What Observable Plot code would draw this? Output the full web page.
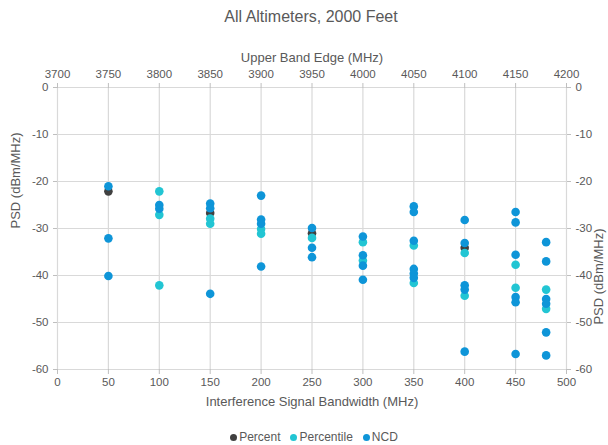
<!DOCTYPE html>
<html>
<head>
<meta charset="utf-8">
<script src="https://cdn.jsdelivr.net/npm/d3@7"></script>
<script src="https://cdn.jsdelivr.net/npm/@observablehq/plot@0.6"></script>
<style>
  html, body { margin: 0; padding: 0; background: #fff; }
  body { width: 608px; height: 445px; overflow: hidden; font-family: "Liberation Sans", Arial, sans-serif; color: #595959; }
  #title { height: 34px; line-height: 34px; text-align: center; font-size: 16px; padding-left: 14px; }
  #chart svg { display: block; }
  #legend { height: 25px; line-height: 34px; text-align: center; font-size: 12px; padding-left: 20px; }
  .item { display: inline-block; margin: 0 5px; }
  .dot { display: inline-block; width: 7px; height: 7px; border-radius: 50%; margin-right: 2px; vertical-align: 0px; }
</style>
</head>
<body>
<div id="title"></div>
<div id="chart"></div>
<div id="legend"></div>
<script>
const chartTitle = "All Altimeters, 2000 Feet";
const topAxisLabel = "Upper Band Edge (MHz)";
const bottomAxisLabel = "Interference Signal Bandwidth (MHz)";
const yAxisLabel = "PSD (dBm/MHz)";

const bandwidthTicks = [0, 50, 100, 150, 200, 250, 300, 350, 400, 450, 500];
const upperBandEdgeTicks = [3700, 3750, 3800, 3850, 3900, 3950, 4000, 4050, 4100, 4150, 4200];
const psdTicks = [0, -10, -20, -30, -40, -50, -60];

const seriesNames = ["Percent", "Percentile", "NCD"];
const seriesColors = ["#404040", "#22c5d3", "#0e95d8"];

const percentX = [50, 150, 250, 400];
const percentY = [-22.1, -26.7, -31.0, -34.1];

const percentileX = [100, 100, 100, 150, 150, 200, 200, 250, 300, 300, 350, 350, 400, 400, 450, 450, 480, 480];
const percentileY = [-22.1, -27.1, -42.1, -27.9, -29.0, -30.1, -31.1, -32.0, -32.9, -36.8, -33.6, -41.6, -35.2, -44.3, -37.7, -42.6, -43.0, -47.1];

const ncdX = [50, 50, 50, 100, 100, 150, 150, 150, 200, 200, 200, 200, 250, 250, 250,
              300, 300, 300, 300, 350, 350, 350, 350, 350, 350, 400, 400, 400, 400, 400,
              450, 450, 450, 450, 450, 450, 480, 480, 480, 480, 480, 480];
const ncdY = [-21.0, -32.1, -40.1, -25.0, -25.8, -24.7, -25.7, -43.9, -23.0, -28.1, -29.0, -38.1, -29.9, -34.1, -36.1,
              -31.7, -35.7, -37.9, -40.9, -25.3, -26.5, -32.6, -38.6, -39.6, -40.5, -28.2, -33.1, -42.1, -43.0, -56.2,
              -26.5, -28.7, -35.6, -44.6, -45.7, -56.7, -32.9, -37.0, -45.0, -46.0, -52.1, -57.0];

const data = [
  ...percentX.map((x, i) => ({series: "Percent", bw: x, psd: percentY[i]})),
  ...percentileX.map((x, i) => ({series: "Percentile", bw: x, psd: percentileY[i]})),
  ...ncdX.map((x, i) => ({series: "NCD", bw: x, psd: ncdY[i]}))
];

document.getElementById("title").textContent = chartTitle;

const textColor = "#595959";
const gridColor = "#d9d9d9";
const axisColor = "#bfbfbf";

const plot = Plot.plot({
  width: 608,
  height: 386,
  marginTop: 53,
  marginBottom: 51,
  marginLeft: 57,
  marginRight: 42,
  style: {fontFamily: "'Liberation Sans', Arial, sans-serif", fontSize: "11.5px", color: textColor, background: "#fff"},
  x: {domain: [0, 500]},
  y: {domain: [-60, 0]},
  color: {domain: seriesNames, range: seriesColors},
  marks: [
    Plot.ruleX(bandwidthTicks, {stroke: gridColor, strokeWidth: 1.2}),
    Plot.ruleY(psdTicks, {stroke: gridColor, strokeWidth: 1.2}),
    Plot.axisX({anchor: "bottom", ticks: bandwidthTicks, tickSize: 5, tickPadding: 3, stroke: axisColor, fill: textColor, label: null, tickFormat: d => String(d)}),
    Plot.axisX({anchor: "top", ticks: bandwidthTicks, tickSize: 5, tickPadding: 5, stroke: axisColor, fill: textColor, label: null, tickFormat: d => String(upperBandEdgeTicks[bandwidthTicks.indexOf(d)])}),
    Plot.axisY({anchor: "left", ticks: psdTicks, tickSize: 4, tickPadding: 5, stroke: axisColor, fill: textColor, label: null, tickFormat: d => String(d)}),
    Plot.axisY({anchor: "right", ticks: psdTicks, tickSize: 4, tickPadding: 5, stroke: axisColor, fill: textColor, label: null, tickFormat: d => String(d)}),
    Plot.text([topAxisLabel], {frameAnchor: "top", dy: -35, fontSize: 13, fill: textColor}),
    Plot.text([bottomAxisLabel], {frameAnchor: "bottom", dy: 36, fontSize: 13, fill: textColor}),
    Plot.text([yAxisLabel], {frameAnchor: "left", dx: -42, rotate: -90, fontSize: 13, fill: textColor}),
    Plot.text([yAxisLabel], {frameAnchor: "right", dx: 32, rotate: -90, fontSize: 13, fill: textColor}),
    Plot.dot(data, {x: "bw", y: "psd", fill: "series", r: 4.3, stroke: "none"})
  ]
});
document.getElementById("chart").appendChild(plot);

const legend = document.getElementById("legend");
seriesNames.forEach((name, i) => {
  const item = document.createElement("span");
  item.className = "item";
  const dot = document.createElement("span");
  dot.className = "dot";
  dot.style.background = seriesColors[i];
  item.appendChild(dot);
  item.appendChild(document.createTextNode(name));
  legend.appendChild(item);
});
</script>
</body>
</html>
